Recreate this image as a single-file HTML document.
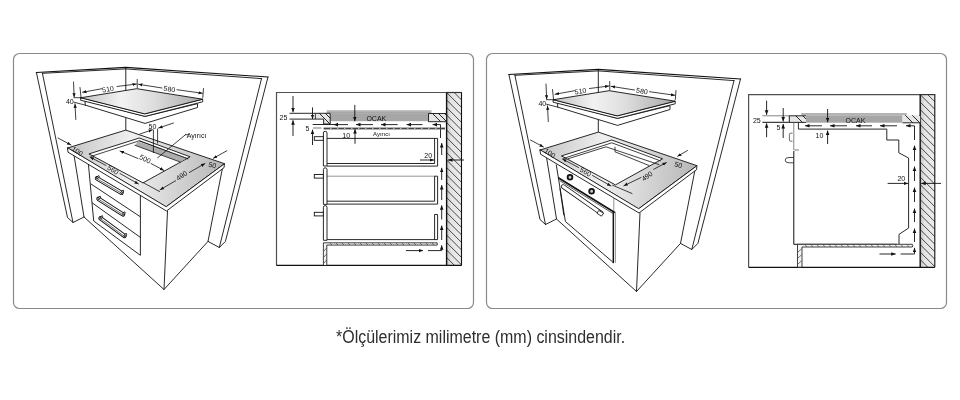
<!DOCTYPE html>
<html><head><meta charset="utf-8">
<style>
html,body{margin:0;padding:0;background:#fff;}
body{width:960px;height:400px;overflow:hidden;position:relative;}
svg{position:absolute;left:0;top:0;will-change:transform;}
.cap{position:absolute;left:335.5px;top:327px;font-family:"Liberation Sans",sans-serif;font-size:17.5px;line-height:20px;color:#2e2e2e;white-space:nowrap;transform:scaleX(0.912);transform-origin:0 0;}
</style></head><body>
<svg width="960" height="400" viewBox="0 0 960 400" font-family="Liberation Sans, sans-serif">
<defs>
<linearGradient id="gHob" gradientUnits="userSpaceOnUse" x1="81" y1="95" x2="203" y2="100">
<stop offset="0" stop-color="#c2c2c2"/><stop offset="0.33" stop-color="#f2f2f2"/><stop offset="0.6" stop-color="#dddddd"/><stop offset="1" stop-color="#a8a8a8"/>
</linearGradient>
<linearGradient id="gTop" gradientUnits="userSpaceOnUse" x1="67" y1="150" x2="225" y2="165">
<stop offset="0" stop-color="#c4c4c4"/><stop offset="0.4" stop-color="#f0f0f0"/><stop offset="0.62" stop-color="#dcdcdc"/><stop offset="1" stop-color="#b6b6b6"/>
</linearGradient>
<pattern id="hatch" patternUnits="userSpaceOnUse" width="5" height="5" patternTransform="rotate(45)">
<rect width="5" height="5" fill="#e8e8e8"/><line x1="0" y1="0" x2="0" y2="5" stroke="#222" stroke-width="1"/>
</pattern>
<marker id="ah" viewBox="0 0 10 10" refX="10" refY="5" markerWidth="5" markerHeight="5" orient="auto-start-reverse">
<path d="M0,1 L10,5 L0,9 z" fill="#111"/>
</marker>
<linearGradient id="gWall" x1="0" y1="0" x2="1" y2="0">
<stop offset="0" stop-color="#c4c4c4"/><stop offset="0.3" stop-color="#e4e4e4"/><stop offset="1" stop-color="#ececec"/>
</linearGradient>
<clipPath id="clipWL"><rect x="446.6" y="92" width="14.9" height="173.5"/></clipPath>
<clipPath id="clipCT"><path d="M315.3,113.3 L330.2,113.3 L330.2,124 L323.6,124 L323.6,119.1 L315.3,119.1 Z M428.5,113.5 L446.6,113.5 L446.6,121.7 L428.5,121.7 Z"/></clipPath>
<clipPath id="clipWR"><rect x="920.2" y="94.4" width="14.6" height="172.8"/></clipPath>
<clipPath id="clipCTR"><path d="M788.8,115.8 L806,115.8 L806,122.4 L788.8,122.4 Z M902.5,115.3 L920.2,115.3 L920.2,122.8 L902.5,122.8 Z"/></clipPath>
</defs>
<rect x="13.5" y="53.5" width="460" height="255" rx="6" ry="6" fill="none" stroke="#8a8a8a" stroke-width="1.2"/>
<rect x="486.5" y="53.5" width="460" height="255" rx="6" ry="6" fill="none" stroke="#8a8a8a" stroke-width="1.2"/>
<g id="Lunder" fill="none" stroke="#111" stroke-width="0.9" stroke-linejoin="round" stroke-linecap="round">
<path d="M88.2,162 L93.7,221 L140.4,255.3 L140.4,195"/>
<path d="M91,184 L140.4,216.8"/>
<path d="M92.4,203 L140.4,237.4"/>
<path d="M97,178.3 L121.5,192.8" stroke-width="4.4"/>
<path d="M97,178.3 L121.5,192.8" stroke="#fff" stroke-width="2.6"/>
<path d="M97.8,179.20000000000002 L120.7,192.60000000000002" stroke-width="0.6"/>
<path d="M97,178.3 l1.6,-1.8 M121.5,192.8 l1.6,-1.8" stroke-width="2.2"/>
<path d="M97,178.3 l1.6,-1.8 M121.5,192.8 l1.6,-1.8" stroke="#fff" stroke-width="0.8"/>
<path d="M98.5,198.8 L123,214.5" stroke-width="4.4"/>
<path d="M98.5,198.8 L123,214.5" stroke="#fff" stroke-width="2.6"/>
<path d="M99.3,199.70000000000002 L122.2,214.3" stroke-width="0.6"/>
<path d="M98.5,198.8 l1.6,-1.8 M123,214.5 l1.6,-1.8" stroke-width="2.2"/>
<path d="M98.5,198.8 l1.6,-1.8 M123,214.5 l1.6,-1.8" stroke="#fff" stroke-width="0.8"/>
<path d="M100.5,218.3 L124.5,236" stroke-width="4.4"/>
<path d="M100.5,218.3 L124.5,236" stroke="#fff" stroke-width="2.6"/>
<path d="M101.3,219.20000000000002 L123.7,235.8" stroke-width="0.6"/>
<path d="M100.5,218.3 l1.6,-1.8 M124.5,236 l1.6,-1.8" stroke-width="2.2"/>
<path d="M100.5,218.3 l1.6,-1.8 M124.5,236 l1.6,-1.8" stroke="#fff" stroke-width="0.8"/>
</g>
<g id="C3d" fill="none" stroke="#111" stroke-width="0.9" stroke-linejoin="round" stroke-linecap="round">
<path d="M36.4,72.5 L125.8,67.4 L268,77" stroke-width="1.1"/>
<path d="M42.4,73.3 L125.8,68.9 L261.5,78.6" stroke-width="0.9"/>
<path d="M36.4,72.5 L67.5,217.5 L73,222.5 L84,217"/>
<path d="M42.4,73.2 L73,222.5"/>
<path d="M268,77 L225.4,241.4 L219.3,247.5 L208,241.4"/>
<path d="M261.5,78.6 L219.3,247.5"/>
<path d="M125.8,67.6 L125.8,130.1"/>
<path d="M73.5,152 L84,217 L164,289.5 L208,241.4 L222.5,168"/>
<path d="M167.5,211 L164,289.5"/>
<path d="M67.5,148 L125.8,130.1 L224.5,163.7 L166.5,206.5 Z" fill="url(#gTop)"/>
<path d="M67.5,148 L68,152.2 L166.5,211 L224,167.7 L224.5,163.7 L166.5,206.5 Z" fill="#fff"/>
<path d="M89.3,153.8 L139.3,138 L190.1,156.8 L143.3,182.7 Z" fill="#fff"/>
<path d="M91,156.4 L139.3,140.8 L187.8,158.8" stroke-width="0.8"/>
<path d="M85.5,100.7 L145,116.4 L197.5,103.7 L197.5,107.5 L145,123.4 L85.5,105.2 Z" fill="#fff"/>
<path d="M81,97.7 L145,113.8 L202.7,99.2 L202.7,101.8 L145,116.4 L81,100.3 Z" fill="#fff"/>
<path d="M81,97.7 L136.7,88.7 L202.7,99.2 L145,113.8 Z" fill="url(#gHob)"/>
<g stroke-width="0.8">
<path d="M80,87.5 L81,97"/><path d="M137.2,79.5 L137.3,88"/><path d="M203.5,88.5 L202.8,97.5"/>
<path d="M102,88.7 L82.5,92.3" marker-end="url(#ah)"/><path d="M117,86.5 L136.5,84" marker-end="url(#ah)"/>
<path d="M162,88 L138.5,84.3" marker-end="url(#ah)"/><path d="M177,89.7 L202.5,93.3" marker-end="url(#ah)"/>
<path d="M73.5,82 L74.2,97.2" marker-end="url(#ah)"/><path d="M75.8,119.5 L75,103.8" marker-end="url(#ah)"/>
<path d="M74,97.7 L81,97.7"/><path d="M74,102.2 L85.5,105.2"/>
<path d="M58,138 L71,145" marker-end="url(#ah)"/>
<path d="M106,165.5 L90,157" marker-end="url(#ah)"/><path d="M120,173.5 L138.5,184" marker-end="url(#ah)"/>
</g>
<g font-family="Liberation Sans, sans-serif" font-size="7" fill="#111" stroke="none" text-anchor="middle">
<text x="108" y="91.5" transform="rotate(-9 108 89)">510</text>
<text x="169.5" y="91.5" transform="rotate(9 169.5 89)">580</text>
<text x="69.8" y="104.3">40</text>
<text x="77.5" y="153.5" transform="rotate(32 77.5 151)">100</text>
<text x="113" y="172.3" transform="rotate(30 113 170)">560</text>
</g>
</g>
<g id="Lover" fill="none" stroke="#111" stroke-width="0.8" stroke-linejoin="round" stroke-linecap="round">
<path d="M138,141.4 L187,157.7 L180.4,162.1 L135,145.3 Z" fill="#adadad" stroke="none"/>
<path d="M139.3,140.8 L187.8,158.8 M135,145.3 L180.4,162.1"/>
<path d="M153.4,130 L153.4,152.6"/><path d="M157.6,129 L157.6,143.1"/>
<path d="M140,134 L152.5,129.7" marker-end="url(#ah)"/><path d="M173.5,123 L158.6,128" marker-end="url(#ah)"/>
<path d="M185.5,134.7 L188.5,134.7 M185.5,134.7 L157.6,157.8"/>
<path d="M138,158.5 L120,151" marker-end="url(#ah)"/><path d="M151,163.5 L163.9,170.4" marker-end="url(#ah)"/>
<path d="M189.3,172.5 L205,163.5" marker-end="url(#ah)"/><path d="M175.7,180.7 L160,189.8" marker-end="url(#ah)"/>
<path d="M226.8,150.8 L213.3,158.3" marker-end="url(#ah)"/>
<path d="M143.3,182.7 L159.5,191.5"/>
<g font-family="Liberation Sans, sans-serif" font-size="7" fill="#111" stroke="none" text-anchor="middle">
<text x="152.4" y="129">50</text>
<text x="196.5" y="137.6" font-size="7">Ayırıcı</text>
<text x="145" y="161.3" transform="rotate(27 145 159)">500</text>
<text x="181.7" y="178" transform="rotate(-35 181.7 175.5)">490</text>
<text x="212.5" y="167.5" transform="rotate(15 212.5 165)">50</text>
</g>
</g>
<g id="L2" fill="none" stroke="#111" stroke-width="0.9">
<!-- frame -->
<path d="M276.5,265.3 L276.5,92.5 L447,92.5" stroke-width="1.2" stroke="#505050"/>
<!-- wall -->
<rect x="446.6" y="92" width="14.9" height="173.5" fill="url(#gWall)" stroke="none"/>
<g clip-path="url(#clipWL)" stroke-width="0.8" stroke="#222">
<path d="M445.6,69.0 l17,17 M445.6,76.5 l17,17 M445.6,84.0 l17,17 M445.6,91.5 l17,17 M445.6,99.0 l17,17 M445.6,106.5 l17,17 M445.6,114.0 l17,17 M445.6,121.5 l17,17 M445.6,129.0 l17,17 M445.6,136.5 l17,17 M445.6,144.0 l17,17 M445.6,151.5 l17,17 M445.6,159.0 l17,17 M445.6,166.5 l17,17 M445.6,174.0 l17,17 M445.6,181.5 l17,17 M445.6,189.0 l17,17 M445.6,196.5 l17,17 M445.6,204.0 l17,17 M445.6,211.5 l17,17 M445.6,219.0 l17,17 M445.6,226.5 l17,17 M445.6,234.0 l17,17 M445.6,241.5 l17,17 M445.6,249.0 l17,17 M445.6,256.5 l17,17 M445.6,264.0 l17,17"/>
</g>
<path d="M446.6,92 L446.6,265.5" stroke-width="1.4"/>
<path d="M461.5,92 L461.5,265.5" stroke-width="1.1"/>
<path d="M446,92.5 L462,92.5" stroke-width="1.2" stroke="#333"/>
<!-- floor -->
<path d="M276.3,265.3 L461.5,265.3" stroke-width="1.2"/>
<!-- hob -->
<rect x="326.7" y="110.2" width="104.8" height="3" fill="#b4b4b4" stroke="none"/>
<rect x="330.2" y="113.6" width="98.3" height="7.6" fill="#a6a6a6" stroke="none"/>
<path d="M326.7,113.2 L431.5,113.2" stroke-width="0.5" stroke="#666"/>
<!-- countertop hatched -->
<path d="M315.3,113.3 L330.2,113.3 L330.2,124 L323.6,124 L323.6,119.1 L315.3,119.1 Z" fill="#e6e6e6"/>
<path d="M428.5,113.5 L446.6,113.5 L446.6,121.7 L428.5,121.7 Z" fill="#e6e6e6"/>
<g clip-path="url(#clipCT)" stroke-width="0.9"><path d="M312,106 l22,22 M318,106 l22,22 M324,106 l22,22 M425,106 l22,22 M431,106 l22,22 M437,106 l22,22"/></g>
<!-- dims left -->
<path d="M289.5,113.3 L315.3,113.3 M289.5,119.1 L315.3,119.1" stroke-width="0.9"/>
<path d="M293,96 L293,112.3" marker-end="url(#ah)"/><path d="M293,136 L293,120.2" marker-end="url(#ah)"/>
<path d="M312.5,107.4 L312.5,119" marker-end="url(#ah)"/><path d="M312.5,145 L312.5,129.6" marker-end="url(#ah)"/>
<path d="M312.7,124.5 L334,124.5"/>
<path d="M313,128 L321.4,128" stroke="#666"/>
<!-- air arrows top -->
<path d="M348,124.6 L333.5,124.6" marker-end="url(#ah)"/>
<path d="M373,124.6 L356,124.6" marker-end="url(#ah)"/>
<path d="M397.7,124.6 L381,124.6" marker-end="url(#ah)"/>
<path d="M422.5,124.6 L406.5,124.6" marker-end="url(#ah)"/>
<path d="M440.5,138 L440.5,124.6 L432.5,124.6" marker-end="url(#ah)"/>
<!-- dim 10 -->
<path d="M354.8,105 L354.8,121.3" marker-end="url(#ah)"/><path d="M355,143.8 L355,129" marker-end="url(#ah)"/>
<!-- separator bar -->
<rect x="323.6" y="127.6" width="121.4" height="1.8" fill="#444" stroke="none"/>
<path d="M330,128.5 h1.5 M337,128.5 h1.5 M344,128.5 h1.5 M351,128.5 h1.5 M358,128.5 h1.5 M365,128.5 h1.5 M372,128.5 h1.5 M379,128.5 h1.5 M386,128.5 h1.5 M393,128.5 h1.5 M400,128.5 h1.5 M407,128.5 h1.5 M414,128.5 h1.5 M421,128.5 h1.5 M428,128.5 h1.5 M435,128.5 h1.5" stroke="#ccc" stroke-width="0.8"/>
<!-- drawers -->
<g stroke-width="0.9" stroke="#111" fill="#fff">
<path d="M327,138.4 L437.6,138.4 L437.6,166.1 L327,166.1 M327,163.5 L434.6,163.5 L434.6,138.4" fill="none"/>
<path d="M327,176.2 L434.6,176.2" stroke="#888" fill="none"/>
<path d="M434.6,176.2 L437.6,176.2 L437.6,204.1 L327,204.1 M327,201.2 L434.6,201.2 L434.6,176.2" fill="none"/>
<path d="M434.6,214.5 L437.6,214.5 L437.6,239.6 L327,239.6 M434.6,239.6 L434.6,214.5" fill="none"/>
<path d="M323.4,166 L323.4,133 Q323.4,131.3 325.2,131.3 Q327,131.3 327,133 L327,166 Z"/>
<path d="M323.4,204.4 L323.4,169.5 Q323.4,167.8 325.2,167.8 Q327,167.8 327,169.5 L327,204.4 Z"/>
<path d="M323.4,240.3 L323.4,207.3 Q323.4,205.6 325.2,205.6 Q327,205.6 327,207.3 L327,240.3 Z"/>
<rect x="314.3" y="136.7" width="9" height="3.6"/>
<rect x="314.3" y="174.5" width="9" height="3.6"/>
<rect x="314.3" y="212.3" width="9" height="3.6"/>
</g>
<!-- plinth -->
<path d="M323.4,265.5 L323.4,242.8 L437.2,242.8 L437.2,245.1 L326.8,245.1 L326.8,265.5 Z" fill="#f4f4f4" stroke="#111" stroke-width="0.8"/>
<path d="M330,243 l1.8,2 M336,243 l1.8,2 M342,243 l1.8,2 M348,243 l1.8,2 M354,243 l1.8,2 M360,243 l1.8,2 M366,243 l1.8,2 M372,243 l1.8,2 M378,243 l1.8,2 M384,243 l1.8,2 M390,243 l1.8,2 M396,243 l1.8,2 M402,243 l1.8,2 M408,243 l1.8,2 M414,243 l1.8,2 M420,243 l1.8,2 M426,243 l1.8,2 M432,243 l1.8,2 M324,251 l2.6,-3 M324,257 l2.6,-3 M324,263 l2.6,-3" stroke="#222" stroke-width="0.6"/>
<!-- air arrows right & bottom -->
<path d="M441.7,155 L441.7,143" marker-end="url(#ah)"/>
<path d="M441.7,180 L441.7,167.8" marker-end="url(#ah)"/>
<path d="M441.7,200 L441.7,185" marker-end="url(#ah)"/>
<path d="M441.7,219.5 L441.7,205.3" marker-end="url(#ah)"/>
<path d="M441.7,240 L441.7,225.5" marker-end="url(#ah)"/>
<path d="M406,250.6 L423,250.6" marker-end="url(#ah)"/>
<path d="M428,250.6 L441.7,250.6 L441.7,245.3" marker-end="url(#ah)"/>
<!-- dim 20 -->
<path d="M420,160 L434,160" marker-end="url(#ah)"/><path d="M464,160 L448,160" marker-end="url(#ah)"/>
</g>
<g font-family="Liberation Sans, sans-serif" font-size="7" fill="#111" text-anchor="middle">
<text x="283.4" y="120.2">25</text>
<text x="307.5" y="130.6">5</text>
<text x="346.2" y="138">10</text>
<text x="376.3" y="121" font-size="7">OCAK</text>
<text x="381.5" y="136.3" font-size="6">Ayırıcı</text>
<text x="428.2" y="157.6">20</text>
</g>
<g id="Runder" fill="none" stroke="#111" stroke-width="0.9" stroke-linejoin="round" stroke-linecap="round">
<path d="M556.3,165 L565.4,221.5 L613.3,262.5"/>
<path d="M613.3,212 L613.3,262.5" stroke-width="1.4"/>
<path d="M615.3,212 L615.3,262.5" stroke="#888" stroke-width="1"/>
<path d="M613.8,198.8 L613.8,212" stroke="#777" stroke-width="0.8"/>
<path d="M558.7,178 L614.3,212.2" stroke-width="1.6"/>
<path d="M560,180.8 L613.8,214" stroke-width="0.7"/>
<path d="M560,188.7 L563.8,215"/>
<path d="M563.2,186.6 L601.2,213.2" stroke-width="4.6"/>
<path d="M563.2,186.6 L601.2,213.2" stroke="#fff" stroke-width="3"/>
<path d="M599,210.6 L603.6,213.2 L601.4,216.2 L597.4,213.6 Z" fill="#fff" stroke-width="0.8"/>
<circle cx="570" cy="177.3" r="2.4" fill="#c8c8c8" stroke-width="1.8"/>
<circle cx="591.6" cy="191.2" r="2.4" fill="#c8c8c8" stroke-width="1.8"/>
</g>
<use href="#C3d" transform="translate(472.5,2)"/>
<g id="Rover" fill="none" stroke="#111" stroke-width="0.8" stroke-linejoin="round" stroke-linecap="round">
<path d="M568,158.8 L606,146.8 L659,164.6"/>
<path d="M615,147.2 L615,151.8 L649,165.5"/>
<path d="M666.5,162.5 L653.7,169.3" marker-start="url(#ah)"/>
<path d="M623.8,185.8 L641,177.5" marker-start="url(#ah)"/>
<path d="M687.5,150.5 L677.5,156.3" marker-end="url(#ah)"/>
<path d="M612.5,185.2 L632,193.5"/>
<g font-family="Liberation Sans, sans-serif" font-size="7" fill="#111" stroke="none" text-anchor="middle">
<text x="647" y="178.5" transform="rotate(-35 647 176)">490</text>
<text x="678.5" y="167.3" transform="rotate(15 678.5 164.8)">50</text>
</g>
</g>
<g id="R2" fill="none" stroke="#111" stroke-width="0.9">
<path d="M748.6,267.2 L748.6,94.6 L920.5,94.6" stroke-width="1.2" stroke="#505050"/>
<rect x="920.2" y="94.4" width="14.6" height="172.8" fill="url(#gWall)" stroke="none"/>
<g clip-path="url(#clipWR)" stroke-width="0.8" stroke="#222">
<path d="M919.2,71.1 l17,17 M919.2,78.6 l17,17 M919.2,86.1 l17,17 M919.2,93.6 l17,17 M919.2,101.1 l17,17 M919.2,108.6 l17,17 M919.2,116.1 l17,17 M919.2,123.6 l17,17 M919.2,131.1 l17,17 M919.2,138.6 l17,17 M919.2,146.1 l17,17 M919.2,153.6 l17,17 M919.2,161.1 l17,17 M919.2,168.6 l17,17 M919.2,176.1 l17,17 M919.2,183.6 l17,17 M919.2,191.1 l17,17 M919.2,198.6 l17,17 M919.2,206.1 l17,17 M919.2,213.6 l17,17 M919.2,221.1 l17,17 M919.2,228.6 l17,17 M919.2,236.1 l17,17 M919.2,243.6 l17,17 M919.2,251.1 l17,17 M919.2,258.6 l17,17 M919.2,266.1 l17,17"/>
</g>
<path d="M920.2,94.4 L920.2,267.2" stroke-width="1.4"/>
<path d="M934.8,94.4 L934.8,267.2" stroke-width="1.1"/>
<path d="M919.7,94.6 L935.3,94.6" stroke-width="1.2" stroke="#333"/>
<path d="M748.6,267.3 L934.8,267.3" stroke-width="1.3"/>
<!-- hob -->
<rect x="801.2" y="113" width="105.5" height="2.3" fill="#b4b4b4" stroke="none"/>
<rect x="806" y="115.3" width="96.5" height="7.4" fill="#a6a6a6" stroke="none"/>
<!-- countertop hatched -->
<path d="M788.8,115.8 L806,115.8 L806,122.4 L788.8,122.4 Z" fill="#e6e6e6" stroke="none"/>
<path d="M902.5,115.3 L920.2,115.3 L920.2,122.8 L902.5,122.8 Z" fill="#e6e6e6" stroke="none"/>
<g clip-path="url(#clipCTR)" stroke-width="0.9"><path d="M788,108 l22,22 M795,108 l22,22 M801,108 l22,22 M898,108 l22,22 M905,108 l22,22 M912,108 l22,22"/></g>
<path d="M788.8,115.8 L806,115.8 M788.8,122.4 L806,122.4 M902.5,122.8 L920.2,122.8 M789.3,115.8 L789.3,122.4" stroke-width="0.9"/>
<!-- dims -->
<path d="M762.4,115.8 L788.8,115.8" stroke="#777"/>
<path d="M762.4,122.3 L788.8,122.3" stroke-width="1"/>
<path d="M766.6,100.6 L766.6,114.8" marker-end="url(#ah)"/><path d="M766.6,137.2 L766.6,123.3" marker-end="url(#ah)"/>
<path d="M783.2,108 L783.2,121.5" marker-end="url(#ah)"/><path d="M783.2,138 L783.2,124" marker-end="url(#ah)"/>
<!-- oven front -->
<path d="M793.8,122.5 L793.8,150" stroke="#666" stroke-width="0.8"/>
<path d="M793.8,151 L793.8,244.3 L897,244.3" stroke-width="1"/>
<path d="M792.5,133.2 L790.6,133.2 Q789.4,133.2 789.4,134.5 L789.4,140 Q789.4,141.2 790.6,141.2 L792.5,141.2" stroke="#444" stroke-width="0.8"/>
<path d="M794.4,150 L798.8,150" stroke="#777" stroke-width="1"/>
<path d="M793.8,157.5 L789,157.5 Q785.2,157.5 785.2,160.1 Q785.2,162.8 789,162.8 L793.8,162.8" stroke="#333" stroke-width="0.9"/>
<!-- oven top/back profile -->
<path d="M798.4,122.8 L798.4,129.1 L886.8,129.1 L886.8,140 L898.8,140 L898.8,152.8 L908.6,158 L908.6,228 L899,234.4 L899,244.3" stroke-width="0.9"/>
<!-- air arrows -->
<path d="M822,125.8 L805,125.8" marker-end="url(#ah)"/>
<path d="M847,125.8 L830,125.8" marker-end="url(#ah)"/>
<path d="M872,125.8 L856,125.8" marker-end="url(#ah)"/>
<path d="M897,125.8 L880,125.8" marker-end="url(#ah)"/>
<path d="M914.5,140 L914.5,125.8 L906,125.8" marker-end="url(#ah)"/>
<path d="M914.5,161 L914.5,145.5" marker-end="url(#ah)"/>
<path d="M914.5,181 L914.5,166.5" marker-end="url(#ah)"/>
<path d="M914.5,202 L914.5,187.5" marker-end="url(#ah)"/>
<path d="M914.5,222 L914.5,208.5" marker-end="url(#ah)"/>
<path d="M914.5,242 L914.5,228.5" marker-end="url(#ah)"/>
<path d="M879.5,254 L895.7,254" marker-end="url(#ah)"/>
<path d="M900.6,254 L914.5,254 L914.5,247.8" marker-end="url(#ah)"/>
<path d="M827.6,109 L827.6,122.3" marker-end="url(#ah)"/><path d="M827.6,144 L827.6,130.5" marker-end="url(#ah)"/>
<path d="M887.6,183.4 L908,183.4" marker-end="url(#ah)"/><path d="M941,183.4 L921.2,183.4" marker-end="url(#ah)"/>
<!-- base -->
<path d="M797.5,267.2 L797.5,244.3 L912.3,244.3 Q913.3,245.65 912.3,247 L802,247 L802,267.2 Z" fill="#f4f4f4" stroke="#111" stroke-width="0.8"/>
<path d="M805,244.5 l1.8,2.3 M811,244.5 l1.8,2.3 M817,244.5 l1.8,2.3 M823,244.5 l1.8,2.3 M829,244.5 l1.8,2.3 M835,244.5 l1.8,2.3 M841,244.5 l1.8,2.3 M847,244.5 l1.8,2.3 M853,244.5 l1.8,2.3 M859,244.5 l1.8,2.3 M865,244.5 l1.8,2.3 M871,244.5 l1.8,2.3 M877,244.5 l1.8,2.3 M883,244.5 l1.8,2.3 M889,244.5 l1.8,2.3 M895,244.5 l1.8,2.3 M901,244.5 l1.8,2.3 M907,244.5 l1.8,2.3 M798,252 l3.6,-3.2 M798,258 l3.6,-3.2 M798,264 l3.6,-3.2" stroke="#222" stroke-width="0.6"/>
</g>
<g font-family="Liberation Sans, sans-serif" font-size="7" fill="#111" text-anchor="middle">
<text x="756.8" y="122.6">25</text>
<text x="778.4" y="129.5">5</text>
<text x="819.5" y="138">10</text>
<text x="855.5" y="122.8">OCAK</text>
<text x="901.3" y="181">20</text>
</g>
</svg>
<div class="cap">*Ölçülerimiz milimetre (mm) cinsindendir.</div>
</body></html>
